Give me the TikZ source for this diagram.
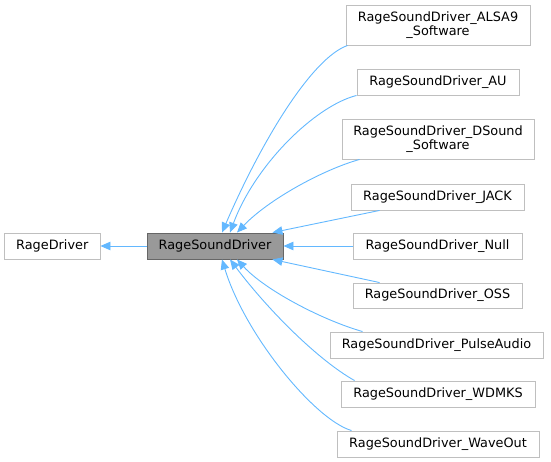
\documentclass[tikz,border=0pt]{standalone}
\usepackage{fontspec}
\setmainfont{DejaVu Sans}
\usetikzlibrary{arrows.meta}
\definecolor{edgeblue}{HTML}{63B8FF}
\definecolor{boxgray}{HTML}{BFBFBF}
\tikzset{
  box/.style={draw=boxgray, fill=white, line width=0.9pt, inner sep=0pt, align=center,
    font=\fontsize{12.85}{14.5}\selectfont},
  focus/.style={box, draw=black!60, fill=black!40},
  edge/.style={draw=edgeblue, line width=0.9pt, -{Triangle[length=10pt,width=8.5pt]}},
}
\begin{document}
\begin{tikzpicture}[x=1pt,y=-1pt]
\useasboundingbox (0,0) rectangle (551,462);
\node[box, minimum width=95.5pt, minimum height=26pt] (rd) at (52.25,246) {RageDriver};
\node[focus, minimum width=136pt, minimum height=26pt] (rsd) at (215,246) {RageSoundDriver};
\node[box, minimum width=184pt, minimum height=40pt] (alsa) at (438,25) {RageSoundDriver\_ALSA9\\\_Software};
\node[box, minimum width=162pt, minimum height=26pt] (au) at (438,82) {RageSoundDriver\_AU};
\node[box, minimum width=192pt, minimum height=40pt] (ds) at (438,139) {RageSoundDriver\_DSound\\\_Software};
\node[box, minimum width=173pt, minimum height=26pt] (jack) at (437.5,197) {RageSoundDriver\_JACK};
\node[box, minimum width=169pt, minimum height=26pt] (null) at (437.5,246) {RageSoundDriver\_Null};
\node[box, minimum width=169pt, minimum height=25pt] (oss) at (437.5,295.5) {RageSoundDriver\_OSS};
\node[box, minimum width=213pt, minimum height=26pt] (pulse) at (436.5,345) {RageSoundDriver\_PulseAudio};
\node[box, minimum width=194pt, minimum height=26pt] (wdm) at (438,394) {RageSoundDriver\_WDMKS};
\node[box, minimum width=202pt, minimum height=26pt] (wave) at (438,444) {RageSoundDriver\_WaveOut};

\draw[edge] (rsd.west) -- (rd.east);
\draw[edge] ([xshift=2pt]alsa.south west) .. controls (312,58) and (262,140) .. ([xshift=7pt]rsd.north);
\draw[edge] ([xshift=0pt]au.south west) .. controls (315,106) and (255,165) .. ([xshift=15pt]rsd.north);
\draw[edge] ([xshift=18pt]ds.south west) .. controls (322,170) and (268,200) .. ([xshift=22pt]rsd.north);
\draw[edge] ([xshift=29pt]jack.south west) -- ([xshift=-11pt]rsd.north east);
\draw[edge] (null.west) -- (rsd.east);
\draw[edge] ([xshift=27pt]oss.north west) -- ([xshift=-11pt]rsd.south east);
\draw[edge] ([xshift=33pt]pulse.north west) .. controls (322,320) and (265,290) .. ([xshift=22pt]rsd.south);
\draw[edge] ([xshift=14pt]wdm.north west) .. controls (318,360) and (268,310) .. ([xshift=15pt]rsd.south);
\draw[edge] ([xshift=15pt]wave.north west) .. controls (315,420) and (245,335) .. ([xshift=7pt]rsd.south);
\end{tikzpicture}
\end{document}
